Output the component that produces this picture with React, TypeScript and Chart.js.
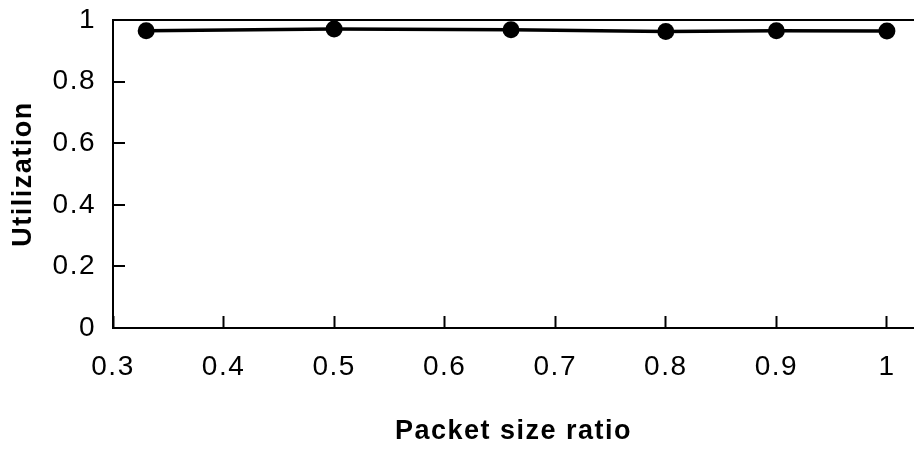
import React, { useEffect, useRef } from "react";
import { Chart, registerables } from "chart.js";

Chart.register(...registerables);

const packetSizeRatio = [0.33, 0.5, 0.66, 0.8, 0.9, 1.0];
const utilization = [0.965, 0.971, 0.968, 0.963, 0.965, 0.964];

const xTickValues = [0.3, 0.4, 0.5, 0.6, 0.7, 0.8, 0.9, 1];
const xTickLabels = ["0.3", "0.4", "0.5", "0.6", "0.7", "0.8", "0.9", "1"];
const yTickValues = [0, 0.2, 0.4, 0.6, 0.8, 1];
const yTickLabels = ["0", "0.2", "0.4", "0.6", "0.8", "1"];

const xTitle = "Packet size ratio";
const yTitle = "Utilization";

const FONT = "'Liberation Sans', Arial, Helvetica, sans-serif";
const SPACING = "1.5px";

const letterSpacingPlugin = {
  id: "letterSpacing",
  beforeUpdate(chart: any) {
    chart.ctx.letterSpacing = SPACING;
  },
  beforeLayout(chart: any) {
    chart.ctx.letterSpacing = SPACING;
  },
  beforeDraw(chart: any) {
    chart.ctx.letterSpacing = SPACING;
  },
};

const zeroPadding = (scale: any) => {
  scale.paddingLeft = 0;
  scale.paddingRight = 0;
  scale.paddingTop = 0;
  scale.paddingBottom = 0;
};

export default function App() {
  const canvasRef = useRef<HTMLCanvasElement | null>(null);

  useEffect(() => {
    const canvas = canvasRef.current;
    if (!canvas) return;
    const chart = new Chart(canvas, {
      type: "line",
      data: {
        datasets: [
          {
            data: packetSizeRatio.map((x, i) => ({ x, y: utilization[i] })),
            borderColor: "#000",
            backgroundColor: "#000",
            borderWidth: 3.5,
            pointRadius: 8.5,
            pointBorderWidth: 0,
            pointBackgroundColor: "#000",
            tension: 0,
            clip: false,
          },
        ],
      },
      plugins: [letterSpacingPlugin],
      options: {
        animation: false,
        responsive: false,
        devicePixelRatio: 1,
        layout: {
          autoPadding: false,
          padding: { top: 20, right: 0, bottom: 0, left: 0 },
        },
        plugins: {
          legend: { display: false },
          tooltip: { enabled: false },
        },
        scales: {
          x: {
            type: "linear",
            bounds: "data",
            min: 0.3,
            max: 1.0245,
            afterBuildTicks: (scale: any) => {
              scale.ticks = xTickValues.map((v) => ({ value: v }));
            },
            afterFit: (scale: any) => {
              scale.height = 122;
              zeroPadding(scale);
            },
            ticks: {
              includeBounds: false,
              autoSkip: false,
              maxRotation: 0,
              padding: 34.5,
              color: "#000",
              font: { family: FONT, size: 28 },
              callback: (_v: any, i: number) => xTickLabels[i],
            },
            grid: {
              drawOnChartArea: false,
              drawTicks: true,
              tickLength: -12,
              tickColor: "#000",
              tickWidth: 2,
            },
            border: { display: true, color: "#000", width: 2 },
            title: {
              display: true,
              text: xTitle,
              color: "#000",
              font: { family: FONT, size: 27, weight: "bold" },
              padding: { top: 0, bottom: 2 },
            },
          },
          y: {
            type: "linear",
            bounds: "data",
            min: 0,
            max: 1,
            afterBuildTicks: (scale: any) => {
              scale.ticks = yTickValues.map((v) => ({ value: v }));
            },
            afterFit: (scale: any) => {
              scale.width = 113;
              zeroPadding(scale);
            },
            ticks: {
              includeBounds: false,
              autoSkip: false,
              padding: 29,
              color: "#000",
              font: { family: FONT, size: 28 },
              callback: (_v: any, i: number) => yTickLabels[i],
            },
            grid: {
              drawOnChartArea: true,
              drawTicks: true,
              tickLength: -12,
              color: (ctx: any) =>
                ctx.tick && ctx.tick.value === 1 ? "#000" : "rgba(0,0,0,0)",
              lineWidth: 2,
              tickColor: "#000",
              tickWidth: 2,
            },
            border: { display: true, color: "#000", width: 2 },
            title: {
              display: true,
              text: yTitle,
              color: "#000",
              font: { family: FONT, size: 27, weight: "bold" },
              padding: { top: 7.5, bottom: 0 },
            },
          },
        },
      },
    } as any);
    return () => chart.destroy();
  }, []);

  return (
    <div
      style={{
        position: "fixed",
        left: 0,
        top: 0,
        width: 914,
        height: 450,
        background: "#fff",
      }}
    >
      <canvas
        ref={canvasRef}
        width={914}
        height={450}
        style={{ width: 914, height: 450, display: "block" }}
      />
    </div>
  );
}
